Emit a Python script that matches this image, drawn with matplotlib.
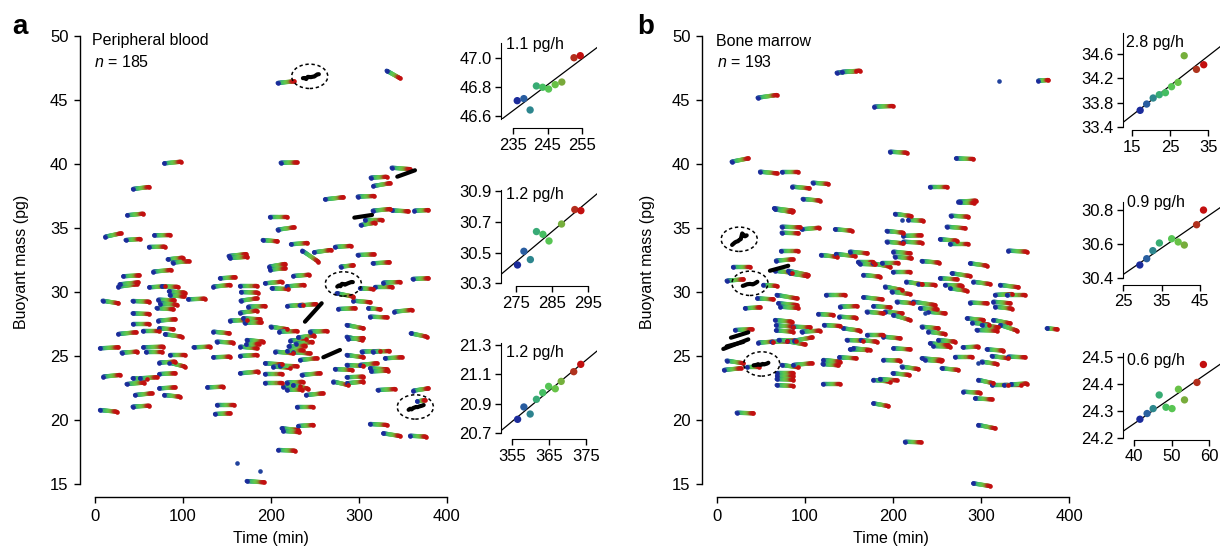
import numpy as np
import matplotlib
matplotlib.use("Agg")
import matplotlib.pyplot as plt
from matplotlib.collections import LineCollection
from matplotlib.colors import LinearSegmentedColormap
from matplotlib.patches import Ellipse

plt.rcParams['font.family'] = ['Liberation Sans', 'DejaVu Sans']
plt.rcParams['mathtext.fontset'] = 'custom'
plt.rcParams['mathtext.it'] = 'Liberation Sans:italic'
plt.rcParams['mathtext.rm'] = 'Liberation Sans'

# ---------------- data: panel a (peripheral blood) tracks ----------------
a_t0 = [207.6, 331.4, 78.8, 211.0, 43.2, 36.7, 11.7, 34.8, 67.4, 61.4,
        82.6, 88.3, 151.9, 153.0, 261.4, 298.5, 313.3, 316.3, 337.1, 315.6,
        337.1, 362.9, 306.8, 302.0, 198.5, 207.6, 190.6, 222.7, 235.6, 248.9,
        272.7, 298.5, 315.6, 279.2, 198.1, 199.0, 32.2, 66.3, 142.0, 225.3,
        26.5, 28.0, 61.7, 75.8, 84.0, 85.0, 134.5, 164.8, 166.0, 193.2,
        200.8, 217.8, 274.6, 301.1, 318.2, 327.6, 361.0, 8.7, 42.8, 72.0,
        74.0, 70.0, 106.0, 165.5, 174.2, 218.5, 232.6, 293.6, 310.6, 276.5,
        340.2, 312.5, 42.8, 71.9, 153.4, 164.8, 168.5, 170.0, 42.8, 54.2,
        73.1, 79.5, 26.5, 134.5, 199.6, 209.4, 244.3, 286.0, 358.8, 286.0,
        288.0, 222.0, 228.0, 231.0, 220.0, 225.0, 138.3, 172.4, 165.0, 172.0,
        5.7, 54.9, 58.0, 30.3, 85.2, 112.0, 164.8, 134.5, 204.9, 218.5,
        233.0, 286.0, 303.0, 315.6, 301.0, 329.5, 312.5, 314.0, 84.5, 73.1,
        193.2, 202.6, 210.0, 272.7, 286.0, 164.8, 234.9, 193.2, 9.5, 42.8,
        35.9, 51.1, 73.1, 286.0, 286.0, 270.8, 217.8, 214.0, 225.0, 218.0,
        193.2, 73.1, 45.5, 78.8, 127.7, 239.8, 321.2, 361.7, 5.7, 42.8,
        139.0, 136.4, 229.2, 212.1, 214.0, 231.0, 312.5, 327.6, 358.0, 208.3,
        172.4, 366.0]
a_m0 = [46.33, 47.29, 40.05, 40.10, 38.05, 36.00, 34.32, 34.06, 34.43, 33.52,
        32.55, 32.30, 32.81, 32.65, 37.24, 37.45, 38.93, 38.28, 39.71, 36.35,
        36.38, 36.35, 35.63, 35.23, 35.86, 34.87, 34.06, 33.73, 33.23, 33.10,
        33.52, 32.89, 32.24, 31.98, 31.98, 31.75, 31.23, 31.59, 31.07, 31.25,
        30.42, 30.60, 30.37, 30.44, 30.05, 29.75, 30.42, 30.44, 30.00, 30.68,
        30.29, 30.44, 29.90, 30.29, 30.42, 30.73, 31.02, 29.32, 29.30, 29.40,
        29.10, 28.75, 29.43, 29.32, 28.85, 28.90, 28.95, 29.32, 28.73, 28.67,
        28.46, 28.07, 28.33, 27.76, 27.76, 28.38, 27.94, 27.60, 27.47, 26.95,
        27.16, 26.70, 26.72, 26.90, 27.29, 26.90, 26.90, 27.42, 26.77, 26.50,
        26.35, 26.20, 25.95, 26.45, 25.75, 25.30, 26.12, 26.25, 25.73, 25.90,
        25.60, 25.68, 25.30, 25.26, 25.08, 25.68, 25.00, 24.90, 25.34, 25.40,
        24.69, 25.08, 25.34, 25.34, 24.30, 24.82, 24.04, 23.80, 24.48, 24.48,
        24.43, 24.17, 24.25, 23.98, 24.30, 23.65, 23.52, 23.59, 23.39, 23.26,
        22.81, 23.26, 23.59, 23.34, 22.87, 23.00, 22.92, 22.60, 22.70, 22.35,
        22.92, 22.47, 21.95, 21.95, 22.55, 21.95, 22.34, 22.29, 20.78, 21.04,
        21.17, 20.47, 21.04, 19.35, 19.15, 19.53, 19.69, 18.96, 18.77, 17.66,
        15.23, 21.45]
a_t1 = [226.1, 346.6, 97.7, 229.2, 61.4, 54.9, 29.2, 51.1, 85.2, 79.5,
        99.6, 106.4, 171.6, 173.0, 282.2, 317.0, 331.4, 335.2, 357.9, 335.2,
        356.0, 378.8, 325.8, 318.2, 218.5, 226.1, 207.2, 241.3, 253.8, 267.8,
        290.5, 317.0, 334.5, 293.6, 215.9, 216.0, 50.3, 86.0, 159.1, 243.5,
        47.4, 49.0, 79.5, 94.0, 102.0, 101.0, 153.4, 183.7, 185.0, 212.1,
        219.7, 237.5, 293.6, 315.6, 337.2, 346.6, 378.8, 26.5, 61.7, 90.0,
        93.0, 89.0, 125.0, 183.7, 193.2, 236.7, 250.9, 312.5, 323.9, 295.5,
        359.8, 331.4, 61.7, 90.9, 172.3, 183.7, 187.5, 189.0, 61.7, 73.1,
        89.0, 98.5, 46.6, 152.6, 218.5, 229.2, 263.3, 305.0, 376.9, 303.0,
        305.0, 240.0, 247.0, 249.0, 239.0, 244.0, 157.2, 191.3, 184.0, 186.0,
        26.5, 77.6, 76.0, 48.1, 102.3, 131.0, 183.7, 153.4, 225.3, 236.0,
        251.9, 305.0, 323.9, 334.5, 320.0, 348.5, 331.4, 333.0, 102.3, 91.0,
        212.1, 221.6, 229.0, 291.7, 305.0, 185.6, 255.7, 212.1, 28.4, 58.7,
        55.7, 70.1, 90.9, 305.0, 305.0, 287.9, 236.0, 233.0, 242.0, 235.0,
        212.1, 90.9, 64.4, 96.6, 145.8, 258.8, 340.9, 378.8, 24.6, 61.7,
        158.0, 153.4, 248.1, 231.0, 232.0, 248.0, 331.4, 346.6, 376.0, 227.3,
        192.0, 375.0]
a_m1 = [46.46, 46.70, 40.18, 40.12, 38.20, 36.12, 34.58, 34.14, 34.45, 33.54,
        32.68, 32.40, 32.96, 32.75, 37.40, 37.50, 39.00, 38.50, 39.60, 36.48,
        36.30, 36.40, 35.63, 35.41, 35.86, 35.05, 33.96, 33.83, 32.37, 33.28,
        33.60, 32.94, 32.32, 32.08, 32.19, 31.85, 31.30, 31.72, 31.15, 31.35,
        30.60, 30.75, 30.44, 30.40, 29.95, 29.65, 30.55, 30.44, 29.95, 30.80,
        30.23, 30.55, 29.64, 30.23, 30.42, 30.78, 31.07, 29.12, 29.24, 29.35,
        29.00, 28.65, 29.48, 29.50, 28.90, 29.00, 29.05, 29.20, 28.65, 28.73,
        28.60, 28.02, 28.28, 27.87, 27.81, 28.54, 27.87, 27.62, 27.47, 26.95,
        27.09, 26.51, 26.85, 26.77, 27.09, 26.95, 26.95, 27.16, 26.51, 26.25,
        26.40, 26.30, 26.10, 26.60, 25.80, 25.20, 26.04, 26.12, 25.60, 25.95,
        25.68, 25.73, 25.30, 25.34, 25.08, 25.73, 25.08, 24.95, 25.21, 25.45,
        24.82, 24.90, 25.39, 25.39, 24.43, 24.90, 23.96, 23.85, 24.17, 24.56,
        24.35, 24.09, 24.20, 23.91, 24.22, 23.78, 23.65, 23.59, 23.52, 23.20,
        22.92, 23.34, 23.65, 23.39, 23.00, 22.73, 22.98, 22.62, 22.45, 22.38,
        22.92, 22.55, 22.08, 21.82, 22.60, 22.08, 22.42, 22.47, 20.65, 21.12,
        21.17, 20.52, 21.04, 19.22, 19.05, 19.61, 19.61, 18.75, 18.70, 17.60,
        15.13, 21.55]
a_dot_t = [161.0, 187.5]
a_dot_m = [16.62, 16.04]
# other highlighted (black) tracks in panel a
a_blk_t0 = [343.5, 294.7, 238.6, 259.5]
a_blk_m0 = [39.01, 35.81, 27.68, 24.90]
a_blk_t1 = [363.6, 314.8, 257.6, 278.4]
a_blk_m1 = [39.51, 36.02, 29.12, 25.47]

# ---------------- data: panel b (bone marrow) tracks ----------------
b_t0 = [136.0, 142.0, 365.0, 46.2, 178.8, 196.6, 271.6, 16.7, 48.9, 73.5,
        85.6, 108.7, 242.0, 97.4, 274.3, 276.0, 64.8, 66.0, 202.3, 217.4,
        265.6, 261.0, 73.5, 96.2, 73.5, 134.1, 192.8, 211.7, 253.4, 192.8,
        211.7, 264.8, 72.7, 331.0, 118.2, 135.2, 151.1, 200.4, 202.0, 160.6,
        162.0, 176.9, 187.1, 232.6, 287.5, 18.5, 65.9, 81.0, 83.0, 166.3,
        200.4, 67.0, 11.0, 52.7, 45.8, 31.8, 67.8, 69.7, 72.0, 123.9,
        115.1, 139.0, 121.6, 139.8, 143.5, 147.4, 151.1, 139.0, 120.8, 120.0,
        120.8, 177.7, 185.0, 199.6, 177.7, 213.6, 291.3, 297.0, 293.2, 279.9,
        297.0, 312.0, 326.0, 334.0, 279.2, 270.5, 300.8, 306.5, 312.2, 331.1,
        374.7, 255.3, 232.6, 236.0, 245.8, 189.0, 200.4, 209.9, 189.0, 163.3,
        170.8, 154.9, 283.9, 290.0, 300.8, 314.0, 322.0, 287.5, 315.9, 329.2,
        314.0, 316.0, 291.3, 321.6, 264.8, 259.1, 266.7, 253.4, 228.8, 190.9,
        198.5, 204.2, 223.1, 177.7, 170.1, 190.9, 200.4, 240.1, 230.7, 232.6,
        240.1, 242.0, 251.5, 8.0, 11.0, 33.7, 20.5, 22.4, 46.9, 62.0,
        70.0, 80.0, 88.0, 65.9, 67.0, 67.0, 86.7, 96.2, 67.8, 67.8,
        67.8, 67.8, 73.5, 86.7, 215.0, 166.3, 295.0]
b_m0 = [47.13, 47.20, 46.51, 45.18, 44.48, 40.96, 40.44, 40.18, 39.40, 39.40,
        38.23, 38.54, 38.18, 37.27, 37.06, 37.00, 36.54, 36.45, 36.10, 35.63,
        35.96, 35.10, 35.10, 34.90, 34.63, 34.90, 34.77, 34.38, 34.12, 33.93,
        33.93, 33.72, 33.23, 33.23, 32.89, 32.97, 33.15, 33.15, 32.76, 32.37,
        32.20, 32.24, 32.24, 32.42, 32.24, 31.98, 31.66, 31.66, 31.45, 31.33,
        31.59, 32.45, 30.88, 30.55, 29.50, 28.73, 29.77, 29.12, 28.85, 29.77,
        28.28, 28.07, 27.42, 28.85, 27.16, 26.25, 25.52, 24.90, 24.69, 24.38,
        22.81, 23.13, 23.20, 23.65, 21.30, 18.30, 15.05, 19.61, 21.69, 22.21,
        23.13, 22.73, 22.73, 22.78, 25.68, 24.90, 24.56, 25.52, 25.00, 24.95,
        27.16, 24.04, 24.82, 24.70, 25.78, 26.51, 25.60, 24.17, 24.69, 26.25,
        26.64, 25.60, 27.94, 27.60, 27.42, 27.81, 27.42, 29.17, 29.77, 29.77,
        29.24, 28.85, 30.80, 30.55, 30.29, 30.55, 31.46, 31.07, 30.62, 30.42,
        30.03, 29.24, 29.24, 28.90, 28.46, 28.46, 28.20, 28.46, 28.73, 27.29,
        26.90, 25.99, 26.25, 23.91, 24.64, 24.12, 27.03, 20.57, 26.04, 26.10,
        26.25, 26.15, 26.20, 27.81, 27.40, 27.00, 27.29, 26.90, 23.65, 23.40,
        23.20, 22.73, 24.30, 24.30, 30.80, 29.59, 27.03]
b_t1 = [158.0, 162.5, 376.5, 67.8, 199.6, 215.6, 291.3, 35.6, 67.8, 92.4,
        104.9, 126.5, 261.8, 117.0, 294.3, 292.0, 86.7, 85.0, 220.1, 234.4,
        285.6, 281.8, 94.3, 116.3, 92.4, 153.1, 211.7, 231.5, 272.4, 211.7,
        232.6, 285.6, 91.7, 352.0, 136.0, 156.8, 170.8, 219.3, 221.0, 177.6,
        180.0, 196.6, 206.0, 252.6, 306.5, 37.5, 84.9, 103.8, 102.0, 185.2,
        219.3, 86.0, 30.0, 67.8, 64.0, 48.9, 90.5, 90.5, 92.0, 145.5,
        132.2, 158.0, 139.8, 158.7, 162.5, 166.3, 170.1, 158.0, 139.8, 138.0,
        139.8, 196.6, 204.0, 218.6, 194.7, 231.5, 310.2, 315.9, 312.2, 298.9,
        314.0, 331.0, 345.0, 352.0, 297.0, 289.4, 317.8, 325.4, 331.1, 350.0,
        386.0, 274.2, 255.3, 254.0, 264.8, 208.0, 219.3, 228.8, 208.0, 181.5,
        189.0, 173.9, 302.8, 309.0, 319.7, 333.0, 341.0, 306.5, 334.9, 350.0,
        333.0, 335.0, 310.2, 342.4, 283.8, 278.1, 287.5, 272.4, 247.7, 209.9,
        219.3, 223.1, 247.7, 196.6, 189.0, 209.9, 219.3, 259.1, 249.7, 251.5,
        259.1, 262.8, 270.5, 26.9, 30.0, 48.1, 39.4, 41.3, 64.0, 80.0,
        90.0, 100.0, 108.0, 84.9, 86.0, 86.0, 105.7, 117.0, 86.7, 86.7,
        86.7, 86.7, 92.4, 107.6, 233.0, 187.1, 318.0]
b_m1 = [47.25, 47.29, 46.56, 45.39, 44.53, 40.88, 40.39, 40.44, 39.27, 39.40,
        38.10, 38.44, 38.18, 37.14, 37.14, 36.95, 36.35, 36.25, 35.94, 35.57,
        35.88, 34.98, 35.05, 35.02, 34.59, 34.79, 34.63, 34.43, 34.01, 33.80,
        33.85, 33.72, 33.23, 33.15, 32.76, 32.81, 33.02, 33.02, 32.63, 32.37,
        32.15, 31.98, 32.24, 32.29, 32.06, 31.98, 31.51, 31.33, 31.25, 31.20,
        31.59, 32.55, 30.99, 30.47, 29.43, 28.80, 29.50, 28.98, 28.75, 29.77,
        28.20, 27.99, 27.34, 28.90, 26.98, 26.20, 25.47, 24.82, 24.56, 24.27,
        22.81, 23.00, 23.10, 23.52, 21.09, 18.26, 14.84, 19.35, 21.61, 22.13,
        22.87, 22.73, 22.73, 22.85, 25.73, 24.90, 24.38, 25.42, 24.82, 24.90,
        27.09, 23.91, 24.69, 24.60, 25.73, 26.38, 25.52, 23.98, 24.64, 26.12,
        26.64, 25.47, 27.81, 27.45, 27.24, 27.55, 26.98, 29.12, 29.84, 29.77,
        29.12, 28.70, 30.62, 30.37, 30.10, 30.50, 31.25, 30.99, 30.55, 30.16,
        29.84, 29.12, 28.98, 28.80, 28.33, 28.33, 27.81, 28.33, 28.65, 27.16,
        26.72, 25.86, 26.12, 24.04, 24.43, 24.12, 27.09, 20.52, 26.12, 26.15,
        26.20, 25.90, 26.45, 27.68, 27.30, 26.90, 27.24, 26.98, 23.65, 23.40,
        23.15, 22.66, 24.12, 24.43, 30.60, 29.43, 26.98]
b_dot_t = [320.8, 209.9, 297.0, 236.4]
b_dot_m = [46.51, 35.63, 24.43, 28.33]
b_blk_t0 = [60.2, 15.9, 7.2, 11.0]
b_blk_m0 = [31.66, 26.43, 25.55, 25.75]
b_blk_t1 = [81.0, 35.6, 35.6, 30.0]
b_blk_m1 = [32.05, 26.85, 26.30, 26.10]

# ---------------- data: single-cell insets ----------------
a1_t = [236.3, 238.2, 240.0, 241.8, 243.6, 245.3, 247.2, 249.1, 252.6, 254.4]
a1_m = [46.705, 46.719, 46.641, 46.806, 46.797, 46.785, 46.815, 46.833, 47.000, 47.014]
a2_t = [275.3, 277.1, 278.9, 280.6, 282.4, 284.1, 287.6, 291.3, 293.0]
a2_m = [30.419, 30.508, 30.454, 30.636, 30.618, 30.575, 30.685, 30.779, 30.772]
a3_t = [356.4, 358.1, 359.8, 361.5, 363.2, 364.8, 366.6, 368.2, 371.6, 373.5]
a3_m = [20.795, 20.879, 20.831, 20.931, 20.976, 21.019, 21.003, 21.053, 21.119, 21.169]
b1_t = [17.2, 18.9, 20.6, 22.2, 23.8, 25.4, 27.1, 28.7, 31.9, 33.8]
b1_m = [33.678, 33.781, 33.880, 33.934, 33.967, 34.065, 34.136, 34.573, 34.349, 34.425]
b2_t = [29.3, 31.1, 32.7, 34.4, 37.6, 39.3, 40.9, 44.1, 45.9]
b2_m = [30.478, 30.515, 30.562, 30.607, 30.632, 30.613, 30.595, 30.714, 30.800]
b3_t = [41.6, 43.5, 45.1, 46.7, 48.5, 50.1, 51.8, 53.4, 56.7, 58.4]
b3_m = [24.270, 24.291, 24.309, 24.359, 24.314, 24.309, 24.380, 24.341, 24.405, 24.471]
rate_labels = ['1.1 pg/h', '1.2 pg/h', '1.2 pg/h', '2.8 pg/h', '0.9 pg/h', '0.6 pg/h']
a_ellipse_t = [244.0, 282.2, 364.0]
a_ellipse_m = [46.85, 30.63, 21.02]
b_ellipse_t = [25.3, 37.5, 50.8]
b_ellipse_m = [34.12, 30.68, 24.38]

# ---------------- drawing ----------------
W, H = 1221, 548
fig = plt.figure(figsize=(W / 100, H / 100), dpi=100)
PT = 0.72  # points per pixel
FS_MAIN = 12
FS_INSET = 12

track_colors = ['#1b2b9b', '#2a62a0', '#2e8d8a', '#3cb86c', '#4cc25a',
                '#62c84c', '#6fb93f', '#8a9032', '#b0321e', '#c20f0f']
cmap = LinearSegmentedColormap.from_list('track', track_colors)


def box(l, t, r, b):
    return fig.add_axes([l / W, 1 - b / H, (r - l) / W, (b - t) / H])


def ftext(x, y, s, **kw):
    fig.text(x / W, 1 - y / H, s, **kw)


def draw_tracks(ax, t0, m0, t1, m1):
    f = np.linspace(0, 1, 17)
    segs, cols = [], []
    for a, b, c, d in zip(t0, m0, t1, m1):
        pts = np.column_stack([a + (c - a) * f, b + (d - b) * f])
        segs.extend(np.stack([pts[:-1], pts[1:]], axis=1))
        cols.extend(cmap((f[:-1] + f[1:]) / 2))
    ax.add_collection(LineCollection(segs, colors=cols, linewidths=3.1,
                                     capstyle='round', zorder=2))
    ax.scatter(t0, m0, s=11, color=cmap(0.0), lw=0, zorder=3)
    ax.scatter(t1, m1, s=11, color=cmap(1.0), lw=0, zorder=3)


def main_axes(l, r):
    ax = box(l, 36, r, 490)
    ax.set_xlim(-17, 400)
    ax.set_ylim(50 - (490 - 36) / 12.8, 50)
    for s in ['top', 'right']:
        ax.spines[s].set_visible(False)
    ax.spines['bottom'].set_position(('outward', 7 * PT))
    ax.spines['bottom'].set_bounds(0, 400)
    ax.spines['left'].set_bounds(15, 50)
    for s in ['bottom', 'left']:
        ax.spines[s].set_linewidth(1.0)
    ax.set_xticks([0, 100, 200, 300, 400])
    ax.set_yticks(range(15, 51, 5))
    ax.tick_params(direction='out', length=6 * PT, width=1.0, labelsize=FS_MAIN, pad=4)
    return ax


def inset(l, t, r, b, xoff, xlim, ylim, xticks, yticks, tt, mm, yfmt):
    ax = box(l, t, r, b)
    ax.set_xlim(*xlim)
    ax.set_ylim(*ylim)
    for s in ['top', 'right']:
        ax.spines[s].set_visible(False)
    ax.spines['bottom'].set_position(('outward', xoff * PT))
    ax.spines['bottom'].set_bounds(xticks[0], xticks[-1])
    ax.set_xticks(xticks)
    ax.set_yticks(yticks)
    ax.set_yticklabels([yfmt % v for v in yticks])
    ax.tick_params(direction='out', length=6 * PT, width=1.0, labelsize=FS_INSET, pad=2.5)
    tt = np.asarray(tt)
    mm = np.asarray(mm)
    k, c = np.polyfit(tt, mm, 1)
    ax.axline((tt.mean(), k * tt.mean() + c), slope=k, color='black', lw=0.9, zorder=1)
    frac = (tt - tt.min()) / (tt.max() - tt.min())
    ax.scatter(tt, mm, s=28, c=cmap(frac), lw=0, zorder=3)
    return ax


def ellipses(ax, et, em):
    for x, y in zip(et, em):
        ax.add_patch(Ellipse((x, y), 41, 1.9, fill=False, ec='black', lw=1.1,
                             ls=(0, (2.2, 1.8)), zorder=4))


# panel a
axa = main_axes(80, 447)
draw_tracks(axa, a_t0, a_m0, a_t1, a_m1)
axa.scatter(a_dot_t, a_dot_m, s=11, color=cmap(0.05), lw=0, zorder=3)
for x0, y0, x1, y1 in zip(a_blk_t0, a_blk_m0, a_blk_t1, a_blk_m1):
    axa.plot([x0, x1], [y0, y1], color='black', lw=3.0, solid_capstyle='round', zorder=4)
for tt, mm in [(a1_t, a1_m), (a2_t, a2_m), (a3_t, a3_m)]:
    axa.plot(tt, mm, color='black', lw=3.0, solid_capstyle='round', zorder=4)
ellipses(axa, a_ellipse_t, a_ellipse_m)

# panel b
axb = main_axes(702, 1069)
draw_tracks(axb, b_t0, b_m0, b_t1, b_m1)
axb.scatter(b_dot_t, b_dot_m, s=11, color=cmap(0.05), lw=0, zorder=3)
for x0, y0, x1, y1 in zip(b_blk_t0, b_blk_m0, b_blk_t1, b_blk_m1):
    axb.plot([x0, x1], [y0, y1], color='black', lw=3.0, solid_capstyle='round', zorder=4)
for tt, mm in [(b1_t, b1_m), (b2_t, b2_m), (b3_t, b3_m)]:
    axb.plot(tt, mm, color='black', lw=3.0, solid_capstyle='round', zorder=4)
ellipses(axb, b_ellipse_t, b_ellipse_m)

# insets
inset(501, 43.3, 597, 119.3, 9, (231.64, 259.2), (46.577, 47.099),
      [235, 245, 255], [46.6, 46.8, 47.0], a1_t, a1_m, '%.1f')
inset(501, 190, 597, 283.3, 3, (270.7, 297.5), (30.3, 30.906),
      [275, 285, 295], [30.3, 30.5, 30.7, 30.9], a2_t, a2_m, '%.1f')
inset(501, 343.3, 597, 433.3, 6, (351.9, 377.9), (20.7, 21.312),
      [355, 365, 375], [20.7, 20.9, 21.1, 21.3], a3_t, a3_m, '%.1f')
inset(1123.3, 33.3, 1220, 127.3, 3, (12.8, 38.05), (33.4, 34.94),
      [15, 25, 35], [33.4, 33.8, 34.2, 34.6], b1_t, b1_m, '%.1f')
inset(1123.3, 201.7, 1220, 278.3, 6.7, (25.0, 50.2), (30.4, 30.849),
      [25, 35, 45], [30.4, 30.6, 30.8], b2_t, b2_m, '%.1f')
inset(1123.3, 353.3, 1220, 438.3, 1.5, (37.2, 62.8), (24.2, 24.512),
      [40, 50, 60], [24.2, 24.3, 24.4, 24.5], b3_t, b3_m, '%.1f')

for (x, y), s in zip([(506, 45), (506, 195), (506, 352), (1126, 43), (1127, 203), (1127, 360)],
                     rate_labels):
    ftext(x, y, s, fontsize=11.5, va='center', ha='left')

# texts
ftext(12, 34, 'a', fontsize=20, fontweight='bold', va='baseline')
ftext(637, 34, 'b', fontsize=20, fontweight='bold', va='baseline')
ftext(92, 41, 'Peripheral blood', fontsize=11.5, va='center')
ftext(94, 62, '$n$ = 185', fontsize=11.5, va='center')
ftext(716, 41, 'Bone marrow', fontsize=11.5, va='center')
ftext(717, 62, '$n$ = 193', fontsize=11.5, va='center')
ftext(271, 538, 'Time (min)', fontsize=11.5, ha='center', va='center')
ftext(891, 538, 'Time (min)', fontsize=11.5, ha='center', va='center')
ftext(22, 262, 'Buoyant mass (pg)', fontsize=11.5, ha='center', va='center', rotation=90)
ftext(648, 262, 'Buoyant mass (pg)', fontsize=11.5, ha='center', va='center', rotation=90)

fig.savefig('out.png', dpi=100)
